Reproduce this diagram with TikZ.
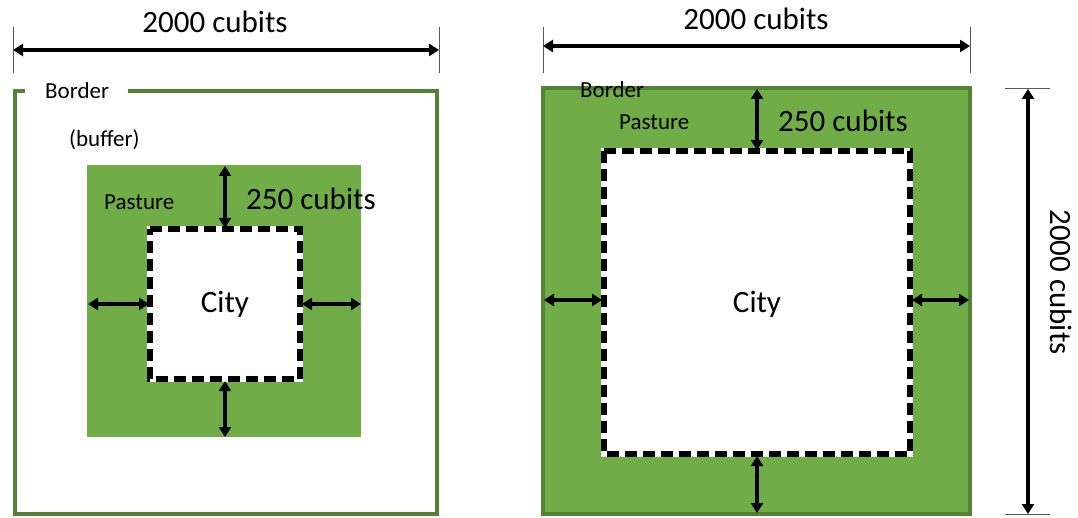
\documentclass[tikz,border=0pt]{standalone}
\usepackage{fontspec}
\setmainfont{Carlito}
\usetikzlibrary{arrows.meta}
\definecolor{pgreen}{HTML}{70AD47}
\definecolor{bgreen}{HTML}{548235}
\tikzset{
  dimarrow/.style={line width=3.4pt,{Triangle[length=10pt,width=12pt]}-{Triangle[length=10pt,width=12pt]}},
  tick/.style={draw=gray!70!black,line width=1pt},
  citybox/.style={draw=white,fill=white,line width=5.5pt},
  citydash/.style={draw=black,line width=5.5pt,dash pattern=on 12pt off 6pt},
  lbl/.style={inner sep=0pt,font=\fontsize{23}{25}\selectfont},
  biglbl/.style={inner sep=0pt,font=\fontsize{31}{33}\selectfont},
}
\begin{document}
\begin{tikzpicture}[x=1pt,y=-1pt]
\useasboundingbox (0,0) rectangle (1078,518);
% ---------- left panel ----------
\coordinate (lt1) at (13,27); \coordinate (lt1b) at (13,73);
\coordinate (lt2) at (439,27); \coordinate (lt2b) at (439,73);
\draw[tick] (lt1) -- (lt1b);
\draw[tick] (lt2) -- (lt2b);
\coordinate (la1) at (13,50); \coordinate (la2) at (439,50);
\draw[dimarrow] (la1) -- (la2);
\node[biglbl] (ltop) at (215,22) {2000 cubits};
% border outline with gap
\coordinate (lb1) at (128,91);
\draw[bgreen,line width=4.5pt] (lb1) -- (437,91) -- (437,514) -- (15,514) -- (15,91) -- (25,91);
\node[lbl,anchor=west] (lborder) at (45,91) {Border};
\node[lbl,anchor=west] (lbuffer) at (69,140) {(buffer)};
% pasture
\fill[pgreen] (87,165) rectangle (361,437);
\node[lbl,anchor=west] (lpasture) at (104,202) {Pasture};
% city
\path[citybox] (150,229) rectangle (300,379);
\draw[citydash] (150,229) -- (300,229) -- (300,379) -- (150,379) -- cycle;
\node[biglbl] (lcity) at (225,304) {City};
\node[biglbl,anchor=west] (l250) at (246,199) {250 cubits};
% arrows
\coordinate (lau1) at (225,166); \coordinate (lau2) at (225,228);
\coordinate (lad1) at (225,381); \coordinate (lad2) at (225,437);
\coordinate (lal1) at (88,304); \coordinate (lal2) at (149,304);
\coordinate (lar1) at (302,304); \coordinate (lar2) at (361,304);
\draw[dimarrow] (lau1) -- (lau2);
\draw[dimarrow] (lad1) -- (lad2);
\draw[dimarrow] (lal1) -- (lal2);
\draw[dimarrow] (lar1) -- (lar2);
% ---------- right panel ----------
\coordinate (rt1) at (543,27); \coordinate (rt1b) at (543,73);
\coordinate (rt2) at (970,27); \coordinate (rt2b) at (970,73);
\draw[tick] (rt1) -- (rt1b);
\draw[tick] (rt2) -- (rt2b);
\coordinate (ra1) at (543,46); \coordinate (ra2) at (970,46);
\draw[dimarrow] (ra1) -- (ra2);
\node[biglbl] (rtop) at (756,19) {2000 cubits};
% green square
\draw[bgreen,fill=pgreen,line width=4.5pt] (543,88) rectangle (970,514);
\node[lbl,anchor=west] (rborder) at (580,90) {Border};
\node[lbl,anchor=west] (rpasture) at (619,122) {Pasture};
\node[biglbl,anchor=west] (r250) at (778,121) {250 cubits};
% city
\path[citybox] (604,151) rectangle (910,454);
\draw[citydash] (604,151) -- (910,151) -- (910,454) -- (604,454) -- cycle;
\node[biglbl] (rcity) at (757,304) {City};
% arrows
\coordinate (rau1) at (757,89); \coordinate (rau2) at (757,150);
\coordinate (rad1) at (757,456); \coordinate (rad2) at (757,513);
\coordinate (ral1) at (544,300); \coordinate (ral2) at (602,300);
\coordinate (rar1) at (912,300); \coordinate (rar2) at (969,300);
\draw[dimarrow] (rau1) -- (rau2);
\draw[dimarrow] (rad1) -- (rad2);
\draw[dimarrow] (ral1) -- (ral2);
\draw[dimarrow] (rar1) -- (rar2);
% vertical dimension
\coordinate (rv1) at (1005,89); \coordinate (rv1b) at (1050,89);
\coordinate (rv2) at (1005,514); \coordinate (rv2b) at (1050,514);
\draw[tick] (rv1) -- (rv1b);
\draw[tick] (rv2) -- (rv2b);
\coordinate (rva1) at (1028,89); \coordinate (rva2) at (1028,514);
\draw[dimarrow] (rva1) -- (rva2);
\node[biglbl,rotate=-90] (rside) at (1061,282) {2000 cubits};
\end{tikzpicture}
\end{document}
